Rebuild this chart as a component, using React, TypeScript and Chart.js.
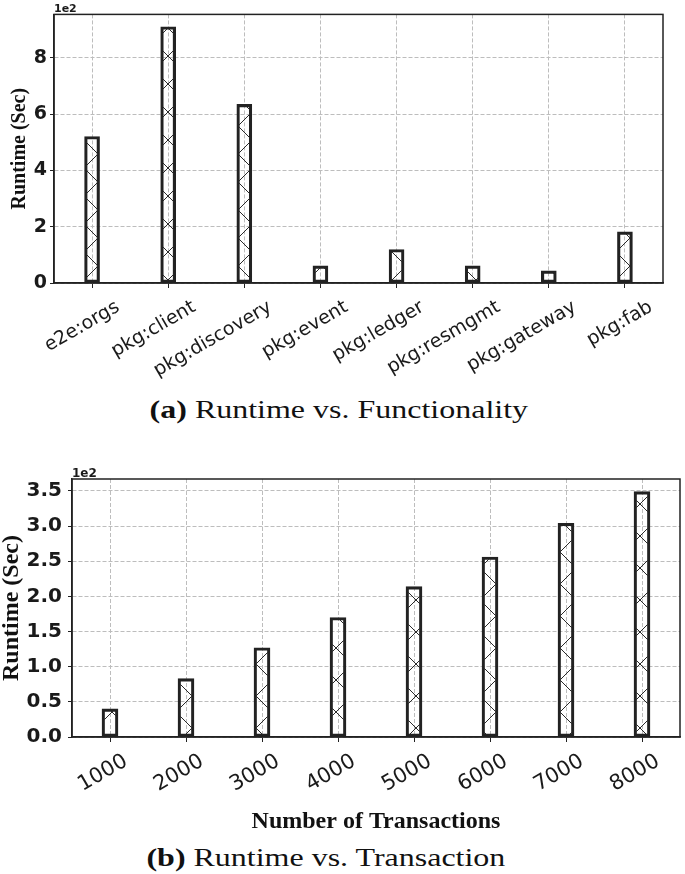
import React, { useEffect, useRef } from "react";
import { Chart, registerables } from "chart.js";

Chart.register(...registerables);

// ---- Data: (a) Runtime vs. Functionality (seconds) ----
const funcCategories = [
  "e2e:orgs",
  "pkg:client",
  "pkg:discovery",
  "pkg:event",
  "pkg:ledger",
  "pkg:resmgmt",
  "pkg:gateway",
  "pkg:fab",
];
const funcRuntime = [521, 911, 635, 61, 119, 61, 43, 182];
const funcTicks = [0, 200, 400, 600, 800];
const funcMax = 955;

// ---- Data: (b) Runtime vs. Transaction (seconds) ----
const txCategories = ["1000", "2000", "3000", "4000", "5000", "6000", "7000", "8000"];
const txRuntime = [40, 83, 127, 170, 214, 256, 304, 349];
const txTicks = [0, 50, 100, 150, 200, 250, 300, 350];
const txMax = 367;

const offsetLabel = "1e2";

function makeHatch(ctx: CanvasRenderingContext2D, P: number) {
  const c = document.createElement("canvas");
  c.width = P;
  c.height = P;
  const g = c.getContext("2d")!;
  g.strokeStyle = "#2a2a2a";
  g.lineWidth = 1;
  for (const k of [-1, 0, 1]) {
    g.beginPath();
    g.moveTo(k * P, 0);
    g.lineTo(k * P + P, P);
    g.stroke();
    g.beginPath();
    g.moveTo(k * P, P);
    g.lineTo(k * P + P, 0);
    g.stroke();
  }
  return ctx.createPattern(c, "repeat");
}

function framePlugin(label: string, fontSize: number) {
  return {
    id: "frame",
    afterDraw(chart: any) {
      const { ctx, chartArea: a } = chart;
      ctx.save();
      ctx.strokeStyle = "#222";
      ctx.lineWidth = 1.5;
      ctx.strokeRect(a.left, a.top, a.right - a.left, a.bottom - a.top);
      ctx.fillStyle = "#1a1a1a";
      ctx.font = `bold ${fontSize}px "DejaVu Sans"`;
      ctx.textAlign = "left";
      ctx.textBaseline = "alphabetic";
      ctx.fillText(label, a.left, a.top - 2);
      ctx.restore();
    },
  };
}

type PanelProps = {
  categories: string[];
  values: number[];
  ticks: number[];
  max: number;
  tickFmt: (v: number) => string;
  height: number;
  padding: { top: number; right: number; left: number; bottom: number };
  yWidth: number;
  xHeight: number;
  barThickness: number;
  hatch: number;
  yTickFont: number;
  yTickPad: number;
  xTickFont: number;
  xTickPad: number;
  xLabelOffset: number;
  yTitleFont: number;
  yTitlePad: number;
  xTitle?: string;
  offsetFont: number;
};

function Panel(p: PanelProps) {
  const ref = useRef<HTMLCanvasElement | null>(null);
  useEffect(() => {
    const canvas = ref.current!;
    const ctx = canvas.getContext("2d")!;
    const pattern = makeHatch(ctx, p.hatch);
    const gridColor = "#bdbdbd";
    const chart = new Chart(canvas, {
      type: "bar",
      data: {
        labels: p.categories,
        datasets: [
          {
            data: p.values,
            backgroundColor: pattern as any,
            borderColor: "#222",
            borderWidth: 2.5,
            borderSkipped: false,
            barThickness: p.barThickness,
          },
        ],
      },
      options: {
        responsive: false,
        animation: false,
        devicePixelRatio: 1,
        layout: { padding: p.padding },
        plugins: {
          legend: { display: false },
          tooltip: { enabled: false },
        },
        scales: {
          x: {
            offset: true,
            grid: {
              offset: false,
              color: gridColor,
              lineWidth: 1,
              drawTicks: true,
              tickLength: 5,
              tickColor: "#222",
              tickWidth: 1,
              tickBorderDash: [],
            },
            border: { display: true, color: "#222", width: 1.5, dash: [4, 2] },
            ticks: {
              autoSkip: false,
              minRotation: 30,
              maxRotation: 30,
              padding: p.xTickPad,
              labelOffset: p.xLabelOffset,
              color: "#1a1a1a",
              font: { family: "DejaVu Sans", size: p.xTickFont },
            },
            title: p.xTitle
              ? {
                  display: true,
                  text: p.xTitle,
                  color: "#111",
                  font: { family: "Liberation Serif", size: 24, weight: "bold", lineHeight: 1 },
                  padding: { top: 0, bottom: 6 },
                }
              : { display: false },
            afterFit: (s: any) => {
              s.height = p.xHeight;
            },
          },
          y: {
            min: 0,
            max: p.max,
            grid: {
              color: gridColor,
              lineWidth: 1,
              drawTicks: true,
              tickLength: 4,
              tickColor: "#222",
              tickWidth: 1,
              tickBorderDash: [],
            },
            border: { display: true, color: "#222", width: 1.5, dash: [4, 2] },
            ticks: {
              stepSize: p.ticks[1] - p.ticks[0],
              includeBounds: false,
              padding: p.yTickPad,
              color: "#1a1a1a",
              font: { family: "DejaVu Sans", size: p.yTickFont, weight: "bold" },
              callback: (v: any) => (p.ticks.includes(Number(v)) ? p.tickFmt(Number(v)) : ""),
            },
            title: {
              display: true,
              text: "Runtime (Sec)",
              color: "#111",
              font: { family: "Liberation Serif", size: p.yTitleFont, weight: "bold", lineHeight: 1 },
              padding: { top: p.yTitlePad, bottom: 0 },
            },
            afterFit: (s: any) => {
              s.width = p.yWidth;
            },
          },
        },
      },
      plugins: [framePlugin(offsetLabel, p.offsetFont)],
    } as any);
    return () => chart.destroy();
  }, []);
  return <canvas ref={ref} width={685} height={p.height} style={{ display: "block", width: 685, height: p.height }} />;
}

const captionStyle: React.CSSProperties = {
  position: "absolute",
  left: 0,
  fontFamily: '"Liberation Serif", serif',
  fontSize: 26,
  lineHeight: "30px",
  color: "#111",
  textAlign: "center",
  whiteSpace: "nowrap",
};

export default function App() {
  return (
    <div
      style={{
        position: "fixed",
        left: 0,
        top: 0,
        width: 685,
        height: 874,
        background: "#fff",
        overflow: "hidden",
      }}
    >
      <div style={{ position: "absolute", left: 0, top: 0 }}>
        <Panel
          categories={funcCategories}
          values={funcRuntime}
          ticks={funcTicks}
          max={funcMax}
          tickFmt={(v) => String(v / 100)}
          height={385}
          padding={{ top: 12, right: 22, left: 0, bottom: 0 }}
          yWidth={54}
          xHeight={102}
          barThickness={15}
          hatch={28}
          yTickFont={19}
          yTickPad={3}
          xTickFont={19}
          xTickPad={8}
          xLabelOffset={26}
          yTitleFont={20}
          yTitlePad={10}
          offsetFont={11}
        />
      </div>
      <div style={{ ...captionStyle, top: 395, width: 677 }}>
        <span style={{ display: "inline-block", transform: "scaleX(1.23)" }}>
          <b>(a)</b> Runtime vs. Functionality
        </span>
      </div>
      <div style={{ position: "absolute", left: 0, top: 440 }}>
        <Panel
          categories={txCategories}
          values={txRuntime}
          ticks={txTicks}
          max={txMax}
          tickFmt={(v) => (v / 100).toFixed(1)}
          height={400}
          padding={{ top: 39, right: 5, left: 0, bottom: 0 }}
          yWidth={72}
          xHeight={103}
          barThickness={16}
          hatch={32}
          yTickFont={20}
          yTickPad={6}
          xTickFont={21}
          xTickPad={7}
          xLabelOffset={16}
          yTitleFont={24}
          yTitlePad={0}
          xTitle="Number of Transactions"
          offsetFont={12}
        />
      </div>
      <div style={{ ...captionStyle, top: 843, width: 651 }}>
        <span style={{ display: "inline-block", transform: "scaleX(1.23)" }}>
          <b>(b)</b> Runtime vs. Transaction
        </span>
      </div>
    </div>
  );
}
